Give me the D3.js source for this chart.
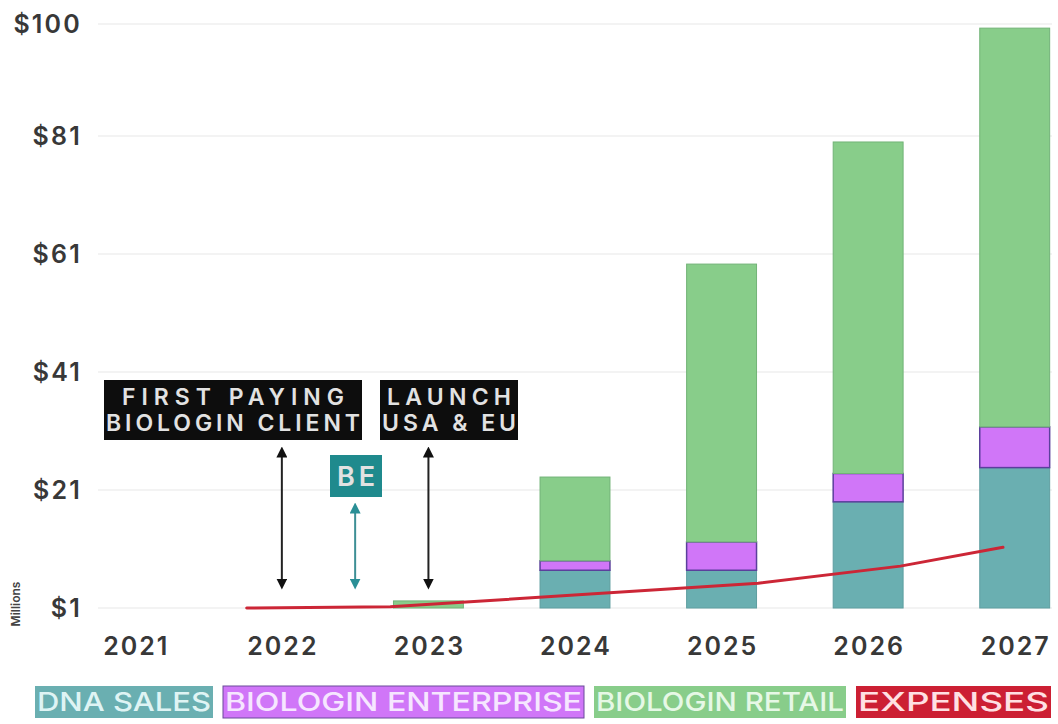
<!DOCTYPE html>
<html>
<head>
<meta charset="utf-8">
<script src="https://cdn.jsdelivr.net/npm/d3@7"></script>
<style>
  body { margin: 0; background: #fff; }
  text { font-family: Inter, "Noto Sans", sans-serif; }
</style>
</head>
<body>
<script>
//chart data (millions)
var years = ["2021", "2022", "2023", "2024", "2025", "2026", "2027"];
var dnaSales = [0, 0, 0, 6.4, 6.4, 18.0, 23.8];
var enterprise = [0, 0, 0, 1.6, 4.8, 4.8, 6.9];
var retail = [0, 0, 1.2, 14.2, 47.1, 56.2, 67.6];
//expenses are drawn as a line along the time axis
var expenseYears = [2021.76, 2022.74, 2025.25, 2026.22, 2026.92];
var expenses = [1.0, 1.2, 5.2, 8.1, 11.3];
var yTicks = [1, 21, 41, 61, 81, 100];
var legendLabels = ["DNA SALES", "BIOLOGIN ENTERPRISE", "BIOLOGIN RETAIL", "EXPENSES"];

var width = 1058, height = 724;
var colors = {dna: "#6aafb1", ent: "#d076f8", ret: "#88cd8a", exp: "#cc2636"};
var strokes = {dna: "#5e9ea0", ent: "#5b3f9c", ret: "#72b377"};

var svg = d3.select("body").append("svg")
    .attr("width", width)
    .attr("height", height);

//scales
var x = d3.scaleBand()
    .domain(years)
    .range([62, 1088])
    .paddingInner(0.523)
    .paddingOuter(0.2615);

var xt = d3.scaleLinear()
    .domain([2021, 2027])
    .range([x("2021") + x.bandwidth() / 2, x("2027") + x.bandwidth() / 2]);

var y = d3.scaleLinear()
    .domain([1, 100])
    .range([608, 24]);

//grid
svg.append("g").selectAll("line")
    .data(yTicks)
    .enter().append("line")
    .attr("x1", 98).attr("x2", 1052)
    .attr("y1", d => y(d)).attr("y2", d => y(d))
    .attr("stroke", "#efefef")
    .attr("stroke-width", 1.5);

//y axis labels
var yAxis = svg.append("g")
    .attr("transform", "translate(82,0)")
    .call(d3.axisLeft(y).tickValues(yTicks).tickSize(0).tickPadding(0).tickFormat(d => "$" + d));
yAxis.select(".domain").remove();
yAxis.selectAll("text")
    .attr("font-size", 25)
    .attr("font-weight", 600)
    .attr("letter-spacing", 2.2)
    .attr("fill", "#383838")
    .style("font-family", "Inter, sans-serif");

svg.append("text")
    .attr("transform", "translate(20," + (y(1) - 4) + ") rotate(-90)")
    .attr("text-anchor", "middle")
    .attr("font-size", 12)
    .attr("font-weight", 600)
    .attr("fill", "#444")
    .text("Millions");

//x axis labels
var xAxis = svg.append("g")
    .attr("transform", "translate(0,635)")
    .call(d3.axisBottom(x).tickSize(0).tickPadding(0));
xAxis.select(".domain").remove();
xAxis.selectAll("text")
    .attr("font-size", 25)
    .attr("font-weight", 600)
    .attr("letter-spacing", 2)
    .attr("fill", "#383838")
    .attr("dx", 1)
    .attr("dy", "0.8em")
    .style("font-family", "Inter, sans-serif");

//stacked bars
var table = years.map(function(yr, i) {
  return {year: yr, dna: dnaSales[i], ent: enterprise[i], ret: retail[i]};
});
var keys = ["dna", "ent", "ret"];
var series = d3.stack().keys(keys)(table);
var base = y.domain()[0];

svg.append("g").selectAll("g")
    .data(series)
    .enter().append("g")
    .attr("fill", d => colors[d.key])
    .attr("stroke", d => strokes[d.key])
    .attr("stroke-width", d => d.key == "ent" ? 1.5 : 1)
    .selectAll("rect")
    .data(d => d.filter(s => s[1] - s[0] > 0))
    .enter().append("rect")
    .attr("x", d => x(d.data.year))
    .attr("width", x.bandwidth())
    .attr("y", d => y(base + d[1]))
    .attr("height", d => y(base + d[0]) - y(base + d[1]));

//expenses line
var line = d3.line()
    .x(d => xt(d[0]))
    .y(d => y(d[1]));

svg.append("path")
    .datum(expenseYears.map((e, i) => [e, expenses[i]]))
    .attr("d", line)
    .attr("fill", "none")
    .attr("stroke", colors.exp)
    .attr("stroke-width", 3)
    .attr("stroke-linejoin", "round")
    .attr("stroke-linecap", "round");

//annotations
var defs = svg.append("defs");
function marker(id, col) {
  defs.append("marker")
      .attr("id", id)
      .attr("viewBox", "0 0 10 10")
      .attr("refX", 5).attr("refY", 5)
      .attr("markerWidth", 5.5).attr("markerHeight", 5.5)
      .attr("orient", "auto-start-reverse")
      .append("path")
      .attr("d", "M0,0L10,5L0,10Z")
      .attr("fill", col);
}
marker("headBlack", "#111");
marker("headTeal", "#2a8f96");

function arrow(xp, top, bottom, col, id) {
  svg.append("line")
      .attr("x1", xp).attr("x2", xp)
      .attr("y1", top).attr("y2", bottom)
      .attr("stroke", col)
      .attr("stroke-width", 2)
      .attr("marker-start", "url(#" + id + ")")
      .attr("marker-end", "url(#" + id + ")");
}
var c2022 = x("2022") + x.bandwidth() / 2;
var c2023 = x("2023") + x.bandwidth() / 2;
arrow(c2022, 452, 584, "#222", "headBlack");
arrow(c2023, 452, 584, "#222", "headBlack");
arrow((c2022 + c2023) / 2, 508, 584, "#3d8f95", "headTeal");

function labelBox(left, top, w, lines, fill, fontSize, lineH) {
  var g = svg.append("g");
  g.append("rect")
      .attr("x", left).attr("y", top)
      .attr("width", w).attr("height", lines.length * lineH + 8)
      .attr("fill", fill);
  lines.forEach(function(l, i) {
    g.append("text")
        .attr("x", left + w / 2)
        .attr("y", top + 4 + lineH * (i + 0.5))
        .attr("dy", "0.36em")
        .attr("text-anchor", "middle")
        .attr("font-size", fontSize)
        .attr("font-weight", 600)
        .attr("fill", "#e2e2e2")
        .attr("textLength", l.len)
        .attr("lengthAdjust", "spacing")
        .text(l.t);
  });
}
labelBox(104, 380, 258, [{t: "FIRST PAYING", len: 222}, {t: "BIOLOGIN CLIENT", len: 254}], "#0d0d0d", 23, 26);
labelBox(380, 380, 138, [{t: "LAUNCH", len: 124}, {t: "USA & EU", len: 134}], "#0d0d0d", 23, 26);
labelBox(330, 455, 52, [{t: "BE", len: 38}], "#1f8a8d", 27, 34);

//legend
var legendColors = [colors.dna, colors.ent, colors.ret, "#cc1f33"];
var legendText = ["#dff4f4", "#f6e6ff", "#e6f8e6", "#ffe0e3"];
var legendWidths = [178, 361, 252, 195];
var lx = 35;
legendLabels.forEach(function(lbl, i) {
  var g = svg.append("g").attr("transform", "translate(" + lx + ",686)");
  g.append("rect")
      .attr("width", legendWidths[i]).attr("height", 32)
      .attr("fill", legendColors[i])
      .attr("stroke", i == 1 ? "#6a4a9a" : "none")
      .attr("stroke-width", 1);
  g.append("text")
      .attr("x", legendWidths[i] / 2).attr("y", 16)
      .attr("dy", "0.36em")
      .attr("text-anchor", "middle")
      .attr("font-size", 26)
      .attr("font-weight", 500)
      .attr("fill", legendText[i])
      .attr("textLength", legendWidths[i] - 4)
      .attr("lengthAdjust", "spacingAndGlyphs")
      .text(lbl);
  lx += legendWidths[i] + 10;
});
</script>
</body>
</html>
